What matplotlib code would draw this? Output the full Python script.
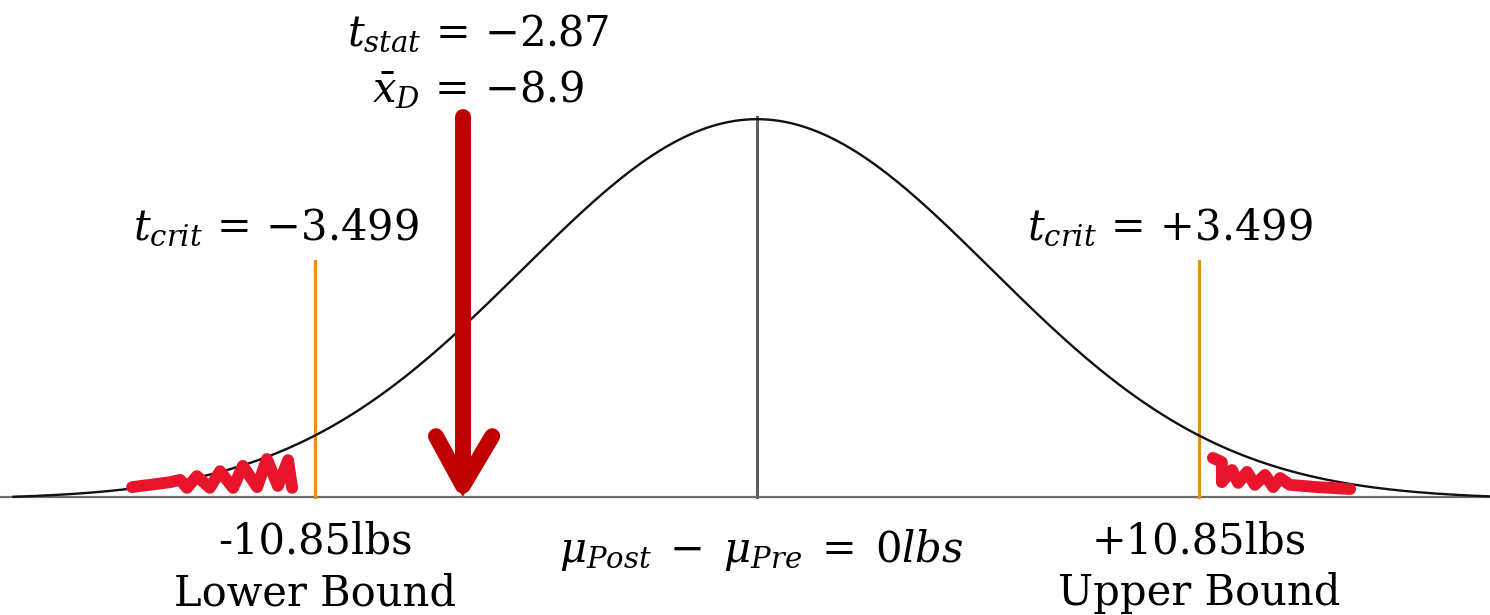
import numpy as np
import matplotlib
matplotlib.use("Agg")
import matplotlib.pyplot as plt

plt.rcParams['font.family'] = ['DejaVu Serif']
plt.rcParams['mathtext.fontset'] = 'dejavuserif'

# ---- data (lbs on x, relative density on y) ----
crit_lbs = 10.85
t_crit = 3.499
t_stat = -2.87
xbar_d = -8.9
arrow_pos_lbs = -7.22          # where the arrow is drawn in the picture
curve_sigma = 5.74             # spread of the drawn bell curve (lbs)
curve_range = (-18.25, 18.0)
crit_line_top = 0.62

left_scribble_x = [-15.34, -14.90, -14.41, -14.16, -13.99, -13.75, -13.43, -13.18,
                   -12.86, -12.62, -12.27, -12.03, -11.76, -11.51, -11.41]
left_scribble_y = [0.026, 0.032, 0.039, 0.045, 0.024, 0.055, 0.024, 0.068,
                   0.024, 0.082, 0.026, 0.100, 0.029, 0.097, 0.024]
right_scribble_x = [11.19, 11.41, 11.41, 11.66, 11.81, 12.03, 12.22, 12.47,
                    12.67, 12.84, 13.08, 13.75, 14.56]
right_scribble_y = [0.103, 0.092, 0.039, 0.071, 0.037, 0.066, 0.032, 0.058,
                    0.026, 0.050, 0.032, 0.026, 0.021]

PX_PER_LB = 40.74
X0_PX, BASE_PX, PEAK_PX = 757, 497, 380
W, H = 1490, 615

fig = plt.figure(figsize=(W / 100, H / 100), dpi=100)
ax = fig.add_axes([0, 0, 1, 1])
ax.set_xlim(-X0_PX / PX_PER_LB, (W - X0_PX) / PX_PER_LB)
ax.set_ylim(-(H - BASE_PX) / PEAK_PX, BASE_PX / PEAK_PX)
ax.axis('off')

# baseline
ax.axhline(0, color='#6e6e6e', lw=1.6, zorder=2)

# bell curve
xs = np.linspace(curve_range[0], curve_range[1], 800)
ys = np.exp(-0.5 * (xs / curve_sigma) ** 2)
ys = ys - ys.min() * 0.9
ax.plot(xs, ys, color='#111111', lw=1.7, zorder=3)

# centre line
ax.plot([0, 0], [0, 1.0], color='#5e5e5e', lw=2.2, zorder=2)

# critical bounds
for c in (-crit_lbs, crit_lbs):
    ax.plot([c, c], [0, crit_line_top], color='#E8901A', lw=2.3, zorder=2)

# scribbles
red2 = '#E8142B'
ax.plot(left_scribble_x, left_scribble_y, color=red2, lw=8.5,
        solid_capstyle='round', solid_joinstyle='round', zorder=4)
ax.plot(right_scribble_x, right_scribble_y, color=red2, lw=8.5,
        solid_capstyle='round', solid_joinstyle='round', zorder=4)

# arrow
red = '#C00000'
ax.plot([arrow_pos_lbs, arrow_pos_lbs], [0.999, 0.06], color=red, lw=11.5,
        solid_capstyle='round', zorder=5)
ax.plot([arrow_pos_lbs - 0.66, arrow_pos_lbs, arrow_pos_lbs + 0.72],
        [0.16, 0.03, 0.16], color=red, lw=11.5,
        solid_capstyle='round', solid_joinstyle='round', zorder=5)
ax.fill([arrow_pos_lbs - 0.35, arrow_pos_lbs + 0.35, arrow_pos_lbs],
        [0.07, 0.07, 0.0], color=red, lw=0, zorder=5)


def signed(v, nd):
    s = '{-}' if v < 0 else '{+}'
    return s + ('%.*f' % (nd, abs(v)))


# texts
fs = 30
sp = r'\,'
ax.text(-6.85, 1.189, r'$t_{stat}%s=%s%s$' % (sp, sp, signed(t_stat, 2)),
        ha='center', va='baseline', fontsize=fs)
ax.text(-6.85, 1.039, r'$\bar{x}_D%s=%s%s$' % (sp, sp, signed(xbar_d, 1)),
        ha='center', va='baseline', fontsize=fs)
ax.text(-11.8, 0.679, r'$t_{crit}%s=%s%s$' % (sp, sp, signed(-t_crit, 3)),
        ha='center', va='baseline', fontsize=fs)
ax.text(10.14, 0.679, r'$t_{crit}%s=%s%s$' % (sp, sp, signed(t_crit, 3)),
        ha='center', va='baseline', fontsize=fs)
ax.text(-crit_lbs, -0.15, '-%.2flbs' % crit_lbs, ha='center', va='baseline', fontsize=fs)
ax.text(-crit_lbs, -0.285, 'Lower Bound', ha='center', va='baseline', fontsize=fs)
ax.text(crit_lbs, -0.15, '+%.2flbs' % crit_lbs, ha='center', va='baseline', fontsize=fs)
ax.text(crit_lbs, -0.285, 'Upper Bound', ha='center', va='baseline', fontsize=fs)
ax.text(0.1, -0.171, r'$\mu_{Post}\;-\;\mu_{Pre}\;=\;0lbs$',
        ha='center', va='baseline', fontsize=fs)

fig.savefig('out.png', dpi=100, facecolor='white')
